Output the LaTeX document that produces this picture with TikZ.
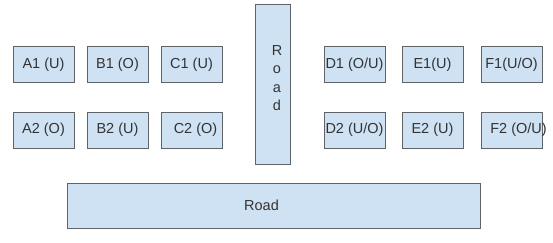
\documentclass[tikz,border=0pt]{standalone}
\usepackage{fontspec}
\setmainfont{Liberation Sans}
\usetikzlibrary{positioning}

\definecolor{lotfill}{HTML}{CFE2F3}
\definecolor{lotline}{HTML}{5F6368}
\definecolor{lottext}{HTML}{333333}

\begin{document}
\begin{tikzpicture}[
    x=1pt, y=-1pt,
    lot/.style={rectangle, draw=lotline, fill=lotfill, line width=1pt, outer sep=0pt, inner sep=0pt,
      minimum width=61pt, minimum height=36pt, text=lottext, font=\fontsize{14.5}{17}\selectfont},
    road/.style={lot, minimum width=#1},
    tag/.style={text=lottext, font=\fontsize{14.5}{18.5}\selectfont, align=center},
]
\useasboundingbox (0,0) rectangle (553,243);

% Left block of lots
\node[lot] (a1) at (43.5, 65) {A1 (U)};
\node[lot, right=13pt of a1] (b1) {B1 (O)};
\node[lot, right=13pt of b1] (c1) {C1 (U)};
\node[lot, below=29pt of a1] (a2) {A2 (O)};
\node[lot, right=13pt of a2] (b2) {B2 (U)};
\node[lot, right=13pt of b2] (c2) {\hspace{8pt}C2 (O)};

% Right block of lots
\node[lot] (d1) at (354.5, 65) {D1 (O/U)};
\node[lot, right=17pt of d1] (e1) {E1(U)};
\node[lot, right=18pt of e1] (f1) {F1(U/O)};
\node[lot, below=29pt of d1] (d2) {D2 (U/O)};
\node[lot, right=17pt of d2] (e2) {E2 (U)\hspace{6pt}};
\node[lot, right=18pt of e2] (f2) {};
\node[tag, xshift=7pt] (f2t) at (f2.center) {F2 (O/U)};

% Roads
\node[road=35pt, minimum height=159pt] (vroad) at (272.5, 84.5) {};
\node[tag] (vroadt) at (277, 78) {R\\o\\a\\d};
\node[road=413pt, minimum height=45pt] (hroad) at (273.5, 205.5) {};
\node[tag, xshift=-12pt] (hroadt) at (hroad.center) {Road};

\end{tikzpicture}
\end{document}
